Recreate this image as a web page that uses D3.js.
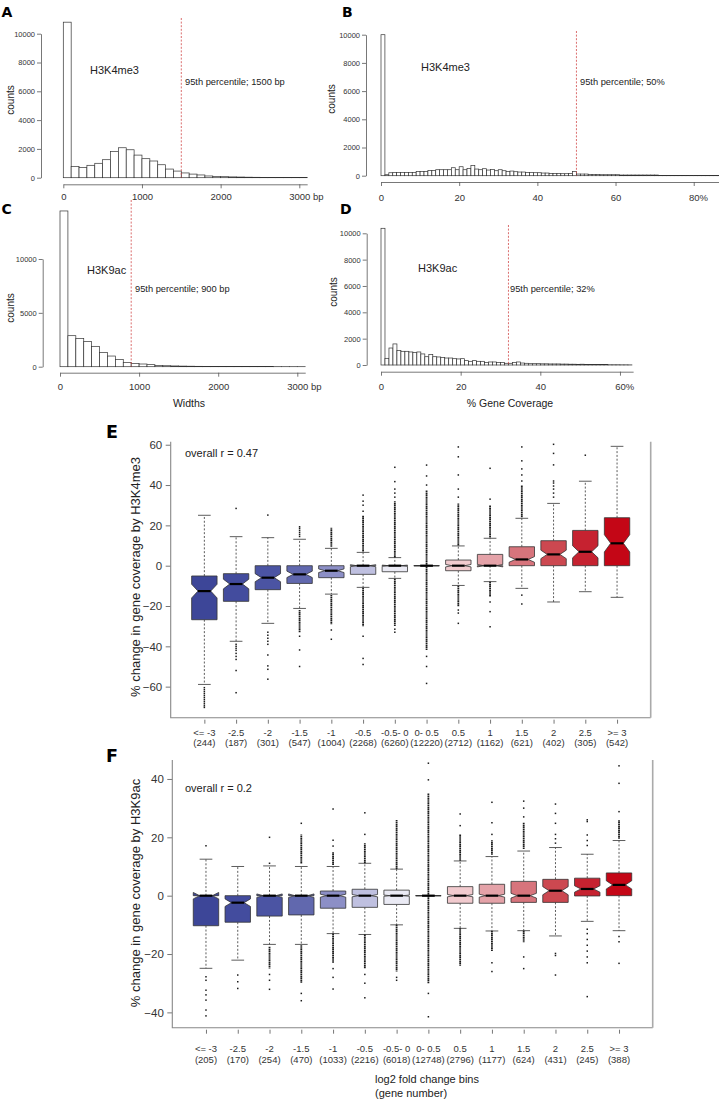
<!DOCTYPE html>
<html><head><meta charset="utf-8">
<script src="https://cdn.jsdelivr.net/npm/d3@7"></script>
<style>body{margin:0;background:#fff} svg{display:block}</style>
</head><body><svg id="c" width="719" height="1100"></svg>
<script>
// ---------------- DATA ----------------
// Histogram counts (A, C: 100 bp bins; B, D: 1 % bins)
const aCounts = [10800,780,700,860,1000,1250,1830,2080,1940,1570,1320,1160,900,600,460,330,250,190,120,90,70,55,45,35,28,22,18,14,10,8,6];
const cCounts = [14460,2880,2630,2350,1890,1330,990,680,400,310,250,190,120,90,70,55,45,35,28,22,18,15,12,10,8,6,5,4,3,3,2];
const bCounts = [10000,70,210,236,236,236,236,236,236,307,307,307,378,378,425,425,425,425,566,425,637,425,519,732,472,425,496,401,448,354,425,354,307,330,283,260,260,236,236,212,212,189,189,165,165,165,142,142,165,307,118,118,118,94,94,94,70,70,70,70,70,47,47,47,47,47,47,47,47,47,47,24,24,24,24,24,24,24,24,24,24,24,24,24,24,24,24];
const dCounts = [10380,506,1290,1600,1090,1040,1040,990,940,990,840,630,790,630,610,560,530,530,480,460,480,330,280,330,280,280,200,230,230,180,200,130,130,180,230,150,130,100,100,100,90,90,80,80,80,70,70,60,60,50,60,40,40,40,30,30,30,20,20,20,15,15,10];
const widthTicks = [0,1000,2000,3000];
const coverTicksB = [0,20,40,60,80];
const coverTicksD = [0,20,40,60];
const countTicksA = [0,2000,4000,6000,8000,10000];
const countTicksC = [0,5000,10000];

// Boxplot bins
const bins = ["<= -3","-2.5","-2","-1.5","-1","-0.5","-0.5- 0","0- 0.5","0.5","1","1.5","2","2.5",">= 3"];
const eN = [244,187,301,547,1004,2268,6260,12220,2712,1162,621,402,305,542];
const fN = [205,170,254,470,1033,2216,6018,12748,2796,1177,624,431,245,388];
const boxFill = ["#3d4698","#434c9e","#4b54a3","#6168ae","#8c8fc6","#bfc0e0","#eaeaf4","#ffffff","#f1cace","#e4a2a8","#d7747c","#cc4850","#c62230","#c40616"];

const eWhiskLo = [-58.9,-37.5,-28.6,-21.2,-14.1,-10.75,-6.3,0,-9.8,-7.9,-11.25,-18,-12.9,-15.7];
const eHingeLo = [-26.8,-17.7,-11.9,-8.8,-5.95,-4.3,-3.0,0,-2.5,0,0,0,0,0];
const eMedian  = [-12.6,-9.1,-5.95,-4.3,-2.5,0,0,0,0,0,3.1,5.6,6.9,11.1];
const eHingeHi = [-5.1,-3.95,0,0,0,0,0,0,2.8,5.6,9.4,12.4,17.5,23.8];
const eWhiskHi = [25.0,14.4,13.9,13.1,8.6,6.6,4.0,0,9.8,13.6,23.5,30.9,41.9,59.2];
const eNotch   = [3.4,2.4,2.0,1.6,0.9,0.5,0.3,0,0.6,0.6,1.4,2.1,3.0,4.3];
const eOut = [
 [-60.5,-61.5,-62.5,-63.5,-64.5,-65.5,-66.5,-67.5,-68.5,-69.5,-70.3],
 [28.4,-39,-40,-41,-42,-43.5,-45,-46.5,-52,-63],
 [25.1,-33,-34.5,-36,-37.5,-39,-44.3,-49.7,-51.4,-56.3],
 [14.5,15.5,16.5,17.5,18.5,19.3,-35,-41.8,-50],
 [-31.9,-36.5],
 [27,30,32,35,-35,-46,-49],
 [34,36,38,41.7,48.8,-31.5,-33],
 [40,44.5,49.9,-45,-50,-58.4],
 [34,38,45,54,58.9,-22,-23.5,-28.6],
 [33,48.3,-18,-22.8,-30.3],
 [42,45,48,52,58.9,-14.6,-19],
 [34,36,38,39.5,41,42,50,55.7,60.2],
 [54.8],
 []
];
const eRuns = [[],[],[],[[-22,-33]],[[9.4,19],[-14.6,-29]],[[7,25],[-11,-30]],[[4,32],[-6.5,-30]],[[-41.8,37.6]],[[10,31],[-10,-20.3]],[[14,30],[-8,-15.4]],[[24,40]],[],[],[]];

const fWhiskLo = [-24.9,-22.1,-16.7,-16.7,-13.0,-13.3,-10.0,0,-11.2,-12.1,-12.0,-13.8,-8.8,-12.0];
const fHingeLo = [-10.3,-9.1,-7.0,-6.6,-4.3,-4.0,-3.0,0,-2.6,-2.6,-2.3,-2.3,-0.1,0];
const fMedian  = [0,-2.4,0,0,0,0,0,0,0,0,0,1.7,2.3,3.7];
const fHingeHi = [0,0,0,0,1.6,2.2,1.9,0,3.1,3.9,4.9,5.6,6.0,7.8];
const fWhiskHi = [12.5,10.0,10.2,10.0,10.0,11.1,9.1,0,11.9,13.4,15.3,16.5,14.2,18.9];
const fNotch   = [1.1,1.3,0.6,0.6,0.5,0.4,0.2,0,0.4,0.5,0.8,1.4,1.1,1.4];
const fOut = [
 [17.1,-27.8,-29,-32.4,-34,-35.8,-39.2,-41.2],
 [-27.2,-29.5,-31.8],
 [11.1,20,-27,-29,-32.1],
 [24.8,-33.5,-36],
 [17,19,29.7,-25,-28,-32],
 [21,28.4,-27,-30,-35],
 [-28,-29],
 [39.7,45.4,-33.5,-41.5],
 [24,28],
 [21,25,32,-23,-26],
 [27,30,32.4,-21,-25],
 [18,19.5,21,24.8,28.2,31.4,-19.8,-20.5,-27.2],
 [17.2,18.9,20.8,25.4,26,-11.5,-13,-15,-17,-19,-21,-23,-34.6],
 [28.8,38.5,44.5,-14,-15.8,-23.2]
];
const fRuns = [[],[],[[-17.5,-25]],[[11,21],[-17,-30]],[[10.5,15],[-13,-23]],[[11.1,18],[-13.3,-25]],[[9.1,26],[-10,-26]],[[-30,35]],[[12,21],[-11.2,-24]],[[14,19],[-12.1,-19]],[[16,25],[-12,-16]],[],[],[[19.5,26]]];
const eTicks = [-60,-40,-20,0,20,40,60];
const fTicks = [-40,-20,0,20,40];

// ---------------- DRAW ----------------
const FONT = '"Liberation Sans", Arial, Helvetica, sans-serif';
const svg = d3.select('#c');
const fmt = d3.format('d');

function label(x, y, s, size, opts = {}) {
  const t = svg.append('text').attr('x', x).attr('y', y).attr('dy', '0.35em')
    .attr('font-size', size).attr('fill', opts.fill || '#222')
    .attr('text-anchor', opts.anchor || 'start')
    .style('font-family', opts.family || FONT).text(s);
  if (opts.bold) t.attr('font-weight', 'bold');
  if (opts.rotate) t.attr('transform', `rotate(-90 ${x} ${y})`);
  return t;
}

function hist(o) {
  const x = d3.scaleLinear().domain([0, o.xEnd]).range([o.x0, o.x0 + o.xEnd * o.k]);
  const y = d3.scaleLinear().domain([0, 10000]).range([o.y0, o.y10k]);
  const g = svg.append('g');
  g.selectAll('rect').data(o.counts).join('rect')
    .attr('x', (d, i) => x(i * o.bw)).attr('width', x(o.bw) - x(0))
    .attr('y', d => y(d)).attr('height', d => y(0) - y(d))
    .attr('fill', '#fff').attr('stroke', '#333').attr('stroke-width', 0.7);
  const ax = g.append('g').attr('transform', `translate(0,${o.xAxisY})`)
    .call(d3.axisBottom(x).tickValues(o.xTicks).tickFormat(fmt).tickSize(4).tickPadding(o.xPad).tickSizeOuter(0));
  ax.selectAll('text').attr('font-size', 9.5).attr('fill', '#333').style('font-family', FONT);
  const last = ax.selectAll('.tick text').filter((d, i, n) => i === n.length - 1);
  const w = last.node().getComputedTextLength();
  last.attr('text-anchor', 'start').attr('x', -w / 2).text(last.text() + o.unit);
  const ay = g.append('g').attr('transform', `translate(${o.yAxisX},0)`)
    .call(d3.axisLeft(y).tickValues(o.yTicks).tickFormat(fmt).tickSize(4).tickPadding(2).tickSizeOuter(0));
  ay.selectAll('text').attr('font-size', 7.5).attr('fill', '#333').style('font-family', FONT);
  [ax, ay].forEach(a => { a.select('.domain').attr('stroke', '#555').attr('stroke-width', 0.8);
    a.selectAll('.tick line').attr('stroke', '#555').attr('stroke-width', 0.8); });
  g.append('line').attr('x1', x(o.pct)).attr('x2', x(o.pct)).attr('y1', o.dashTop).attr('y2', y(0))
    .attr('stroke', '#d24a4a').attr('stroke-width', 0.8).attr('stroke-dasharray', '2,1.6');
}

hist({counts: aCounts, bw: 100, xEnd: 3100, x0: 63.3, k: 0.07867, y0: 177.7, y10k: 33.7,
  xAxisY: 184.3, xPad: 5.4, yAxisX: 41, xTicks: widthTicks, yTicks: countTicksA, unit: ' bp', pct: 1500, dashTop: 18});
hist({counts: bCounts, bw: 1, xEnd: 87, x0: 381, k: 3.909, y0: 175.7, y10k: 34.7,
  xAxisY: 182, xPad: 8, yAxisX: 366, xTicks: coverTicksB, yTicks: countTicksA, unit: '%', pct: 50, dashTop: 31});
hist({counts: cCounts, bw: 100, xEnd: 3100, x0: 60, k: 0.0791, y0: 366.7, y10k: 259,
  xAxisY: 372.7, xPad: 7, yAxisX: 42.7, xTicks: widthTicks, yTicks: countTicksC, unit: ' bp', pct: 900, dashTop: 200});
hist({counts: dCounts, bw: 1, xEnd: 63.3, x0: 381, k: 3.983, y0: 365, y10k: 233.3,
  xAxisY: 371.7, xPad: 8, yAxisX: 366.7, xTicks: coverTicksD, yTicks: countTicksA, unit: '%', pct: 32, dashTop: 225});

// histogram texts
const LF = '"DejaVu Sans", Arial, sans-serif';
label(1.5, 11.7, 'A', 14, {bold: true, family: LF, fill: '#000'});
label(342, 11.7, 'B', 14, {bold: true, family: LF, fill: '#000'});
label(1.5, 209, 'C', 14, {bold: true, family: LF, fill: '#000'});
label(340, 209, 'D', 14, {bold: true, family: LF, fill: '#000'});
label(10, 100, 'counts', 10, {rotate: true, anchor: 'middle'});
label(331.5, 99, 'counts', 10, {rotate: true, anchor: 'middle'});
label(10, 308, 'counts', 10, {rotate: true, anchor: 'middle'});
label(333.5, 292, 'counts', 10, {rotate: true, anchor: 'middle'});
label(90, 70, 'H3K4me3', 11);
label(421, 67, 'H3K4me3', 11);
label(87, 270, 'H3K9ac', 11);
label(418, 268, 'H3K9ac', 11);
label(185, 82, '95th percentile; 1500 bp', 9.3);
label(580, 82, '95th percentile; 50%', 9.3);
label(135, 289, '95th percentile; 900 bp', 9.3);
label(510, 289, '95th percentile; 32%', 9.3);
label(189, 403, 'Widths', 10.5, {anchor: 'middle'});
label(510, 403, '% Gene Coverage', 10.5, {anchor: 'middle'});

function boxPanel(o) {
  const x = d3.scaleLinear().domain([-0.06, 15.06]).range([o.left, o.right]);
  const y = d3.scaleLinear().domain(o.yDom).range([o.bottom, o.top]);
  const g = svg.append('g');
  const wid = x(0.4) - x(0);
  const ay = g.append('g').attr('transform', `translate(${o.left},0)`)
    .call(d3.axisLeft(y).tickValues(o.ticks).tickFormat(fmt).tickSize(5).tickPadding(3.5));
  ay.select('.domain').remove();
  ay.selectAll('.tick line').attr('stroke', '#666').attr('stroke-width', 0.9);
  ay.selectAll('text').attr('font-size', 11.5).attr('fill', '#333').style('font-family', FONT);
  const ax = g.append('g').attr('transform', `translate(0,${o.bottom + 2})`)
    .call(d3.axisBottom(x).tickValues(d3.range(1, 15)).tickSize(4).tickFormat(''));
  ax.select('.domain').remove();
  ax.selectAll('.tick line').attr('stroke', '#666').attr('stroke-width', 0.9);
  // frame
  g.append('path').attr('d', `M${o.left},${o.top}V${o.bottom}H${o.right}`)
    .attr('fill', 'none').attr('stroke', '#888').attr('stroke-width', 1.1);
  g.append('line').attr('x1', o.right).attr('x2', o.right).attr('y1', o.top).attr('y2', o.bottom)
    .attr('stroke', '#aaa').attr('stroke-width', 1.6);
  bins.forEach((b, i) => {
    const cx = x(i + 1);
    const lo = o.hLo[i], hi = o.hHi[i], med = o.med[i];
    // whiskers
    [[hi, o.wHi[i]], [lo, o.wLo[i]]].forEach(([a, z]) => {
      g.append('line').attr('x1', cx).attr('x2', cx).attr('y1', y(a)).attr('y2', y(z))
        .attr('stroke', '#333').attr('stroke-width', 0.8).attr('stroke-dasharray', '2,1.8');
      g.append('line').attr('x1', cx - wid / 2).attr('x2', cx + wid / 2).attr('y1', y(z)).attr('y2', y(z))
        .attr('stroke', '#333').attr('stroke-width', 0.8);
    });
    // dense outlier runs
    o.runs[i].forEach(([a, z]) => {
      g.append('line').attr('x1', cx).attr('x2', cx).attr('y1', y(a)).attr('y2', y(z))
        .attr('stroke', '#1a1a1a').attr('stroke-width', 1.8).attr('stroke-dasharray', '1.5,0.4');
    });
    // sparse outliers
    g.selectAll(null).data(o.out[i]).join('rect')
      .attr('x', cx - 0.75).attr('y', d => y(d) - 0.75).attr('width', 1.5).attr('height', 1.5)
      .attr('fill', '#1a1a1a');
    // notched box (R bxp geometry)
    const c1 = med - o.notch[i], c2 = med + o.notch[i], nw = 0.5;
    const pts = [[-1, lo], [1, lo], [1, c1], [nw, med], [1, c2], [1, hi], [-1, hi], [-1, c2], [-nw, med], [-1, c1]];
    g.append('polygon').attr('points', pts.map(p => [cx + p[0] * wid, y(p[1])].join(',')).join(' '))
      .attr('fill', boxFill[i]).attr('stroke', '#333').attr('stroke-width', 0.8).attr('stroke-linejoin', 'round');
    g.append('line').attr('x1', cx - wid * nw).attr('x2', cx + wid * nw).attr('y1', y(med)).attr('y2', y(med))
      .attr('stroke', '#000').attr('stroke-width', 2.2);
    // category labels
    label(cx, o.lab1, b, 9.5, {anchor: 'middle', fill: '#333'});
    label(cx, o.lab2, '(' + o.n[i] + ')', 9.5, {anchor: 'middle', fill: '#333'});
  });
}

boxPanel({left: 170.7, right: 650.7, top: 441.7, bottom: 717.7, yDom: [-75.4, 61.5], ticks: eTicks,
  wLo: eWhiskLo, hLo: eHingeLo, med: eMedian, hHi: eHingeHi, wHi: eWhiskHi, notch: eNotch,
  out: eOut, runs: eRuns, n: eN, lab1: 733, lab2: 742.7});
boxPanel({left: 172.3, right: 652.7, top: 760, bottom: 1027.7, yDom: [-45.25, 46.5], ticks: fTicks,
  wLo: fWhiskLo, hLo: fHingeLo, med: fMedian, hHi: fHingeHi, wHi: fWhiskHi, notch: fNotch,
  out: fOut, runs: fRuns, n: fN, lab1: 1048.3, lab2: 1059.7});

label(106, 431.5, 'E', 17.5, {bold: true, family: LF, fill: '#000'});
label(106, 755.5, 'F', 17.5, {bold: true, family: LF, fill: '#000'});
label(135, 577, '% change in gene coverage by H3K4me3', 13, {rotate: true, anchor: 'middle'});
label(135, 893, '% change in gene coverage by H3K9ac', 13, {rotate: true, anchor: 'middle'});
label(185, 452.7, 'overall r = 0.47', 11);
label(185, 788.3, 'overall r = 0.2', 11);
label(375, 1079.3, 'log2 fold change bins', 11);
label(375, 1092.7, '(gene number)', 11);
</script></body></html>
